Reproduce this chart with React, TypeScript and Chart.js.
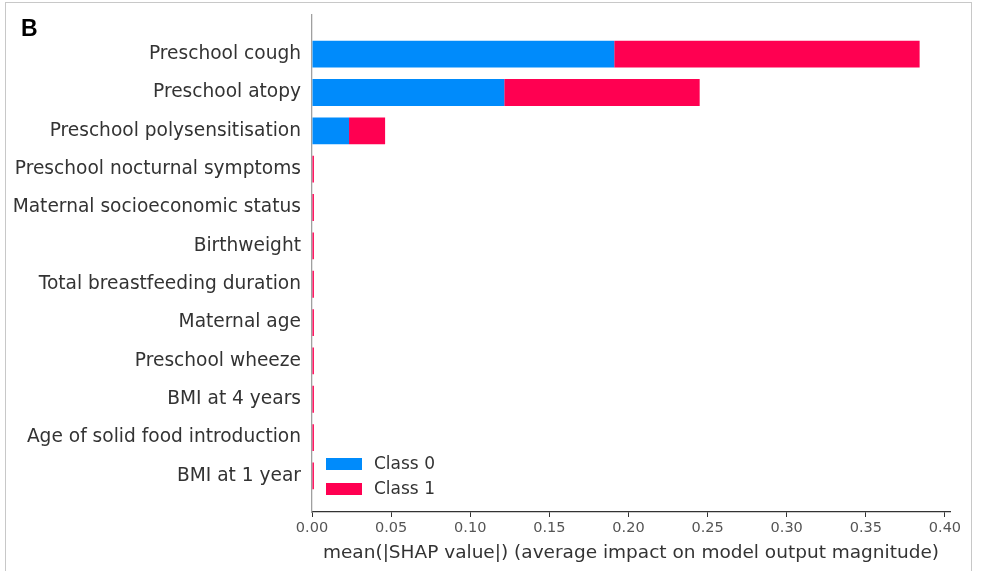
import React, { useEffect, useRef } from "react";
import { Chart, registerables } from "chart.js";

Chart.register(...registerables);

const features = [
  "Preschool cough",
  "Preschool atopy",
  "Preschool polysensitisation",
  "Preschool nocturnal symptoms",
  "Maternal socioeconomic status",
  "Birthweight",
  "Total breastfeeding duration",
  "Maternal age",
  "Preschool wheeze",
  "BMI at 4 years",
  "Age of solid food introduction",
  "BMI at 1 year",
];

const class0 = [0.191, 0.1215, 0.0234, 0.0003, 0.0003, 0.0003, 0.0003, 0.0003, 0.0003, 0.0003, 0.0003, 0.0003];
const class1 = [0.193, 0.1235, 0.0228, 0.0009, 0.0009, 0.0009, 0.0009, 0.0009, 0.0009, 0.0009, 0.0009, 0.0009];

const seriesNames = ["Class 0", "Class 1"];
const seriesColors = ["#008bfb", "#ff0051"];

const xTickValues = [0, 0.05, 0.1, 0.15, 0.2, 0.25, 0.3, 0.35, 0.4];
const xMax = 0.4032;
const yMin = -1.02;
const yMax = 11.94;

const xTitle = "mean(|SHAP value|) (average impact on model output magnitude)";
const panelLabel = "B";

const FONT = "'DejaVu Sans', sans-serif";

const legendPlugin = {
  id: "insideLegend",
  afterDraw(chart: any) {
    const { ctx, chartArea } = chart;
    ctx.save();
    const x0 = chartArea.left + 14;
    const rows = [chartArea.bottom - 48, chartArea.bottom - 23];
    chart.data.datasets.forEach((ds: any, i: number) => {
      const cy = rows[i];
      ctx.fillStyle = ds.backgroundColor;
      ctx.fillRect(x0, cy - 6, 36, 12);
      ctx.fillStyle = "#333333";
      ctx.font = `17px ${FONT}`;
      ctx.textBaseline = "middle";
      ctx.textAlign = "left";
      ctx.fillText(ds.label, x0 + 48, cy + 1);
    });
    ctx.restore();
  },
};

export default function App() {
  const ref = useRef<HTMLCanvasElement | null>(null);

  useEffect(() => {
    if (!ref.current) return;
    const datasets = [class0, class1].map((vals, k) => ({
      label: seriesNames[k],
      data: vals.map((v, i) => ({ x: v, y: i })),
      backgroundColor: seriesColors[k],
      borderWidth: 0,
      categoryPercentage: 1,
      barPercentage: 0.7,
    }));
    const chart = new Chart(ref.current, {
      type: "bar",
      data: { datasets },
      plugins: [legendPlugin],
      options: {
        indexAxis: "y",
        animation: false,
        responsive: false,
        devicePixelRatio: 1,
        layout: { padding: { left: 0, top: 15, right: 32, bottom: 0 } },
        plugins: { legend: { display: false }, tooltip: { enabled: false } },
        scales: {
          x: {
            type: "linear",
            stacked: true,
            min: 0,
            max: xMax,
            afterFit: (s: any) => {
              s.height = 59;
            },
            afterBuildTicks: (s: any) => {
              s.ticks = xTickValues.map((v) => ({ value: v }));
            },
            ticks: {
              includeBounds: false,
              color: "#555555",
              font: { family: FONT, size: 14.5 },
              padding: 3,
              callback: (v: any) => Number(v).toFixed(2),
            },
            grid: {
              display: true,
              drawOnChartArea: false,
              drawTicks: true,
              tickLength: 5,
              color: "#333333",
              lineWidth: 1,
            },
            border: { display: true, color: "#333333", width: 1.3 },
            title: {
              display: true,
              text: xTitle,
              color: "#333333",
              font: { family: FONT, size: 18.5 },
              padding: { top: 0, bottom: 7 },
            },
          },
          y: {
            type: "linear",
            stacked: true,
            reverse: true,
            offset: false,
            min: yMin,
            max: yMax,
            afterFit: (s: any) => {
              s.width = 312;
              s.paddingTop = 0;
              s.paddingBottom = 0;
            },
            afterBuildTicks: (s: any) => {
              s.ticks = features.map((_, i) => ({ value: i }));
            },
            ticks: {
              color: "#333333",
              font: { family: FONT, size: 18.6 },
              padding: 11,
              autoSkip: false,
              callback: (v: any) => features[v] ?? "",
            },
            grid: { display: false, drawTicks: false, offset: false },
            border: { display: true, color: "#a0a0a0", width: 1.3 },
          },
        },
      },
    });
    return () => chart.destroy();
  }, []);

  return (
    <div
      style={{
        position: "fixed",
        left: 0,
        top: 0,
        width: 982,
        height: 571,
        overflow: "hidden",
        background: "#ffffff",
      }}
    >
      <div
        style={{
          position: "absolute",
          left: 5,
          top: 2,
          width: 965,
          height: 600,
          border: "1px solid #c8c8c8",
        }}
      />
      <canvas ref={ref} width={982} height={571} style={{ position: "absolute", left: 0, top: 0 }} />
      <div
        style={{
          position: "absolute",
          left: 21,
          top: 15,
          fontFamily: "'Liberation Sans', Arial, sans-serif",
          fontWeight: "bold",
          fontSize: 23,
          lineHeight: "26px",
          color: "#000",
        }}
      >
        {panelLabel}
      </div>
    </div>
  );
}
